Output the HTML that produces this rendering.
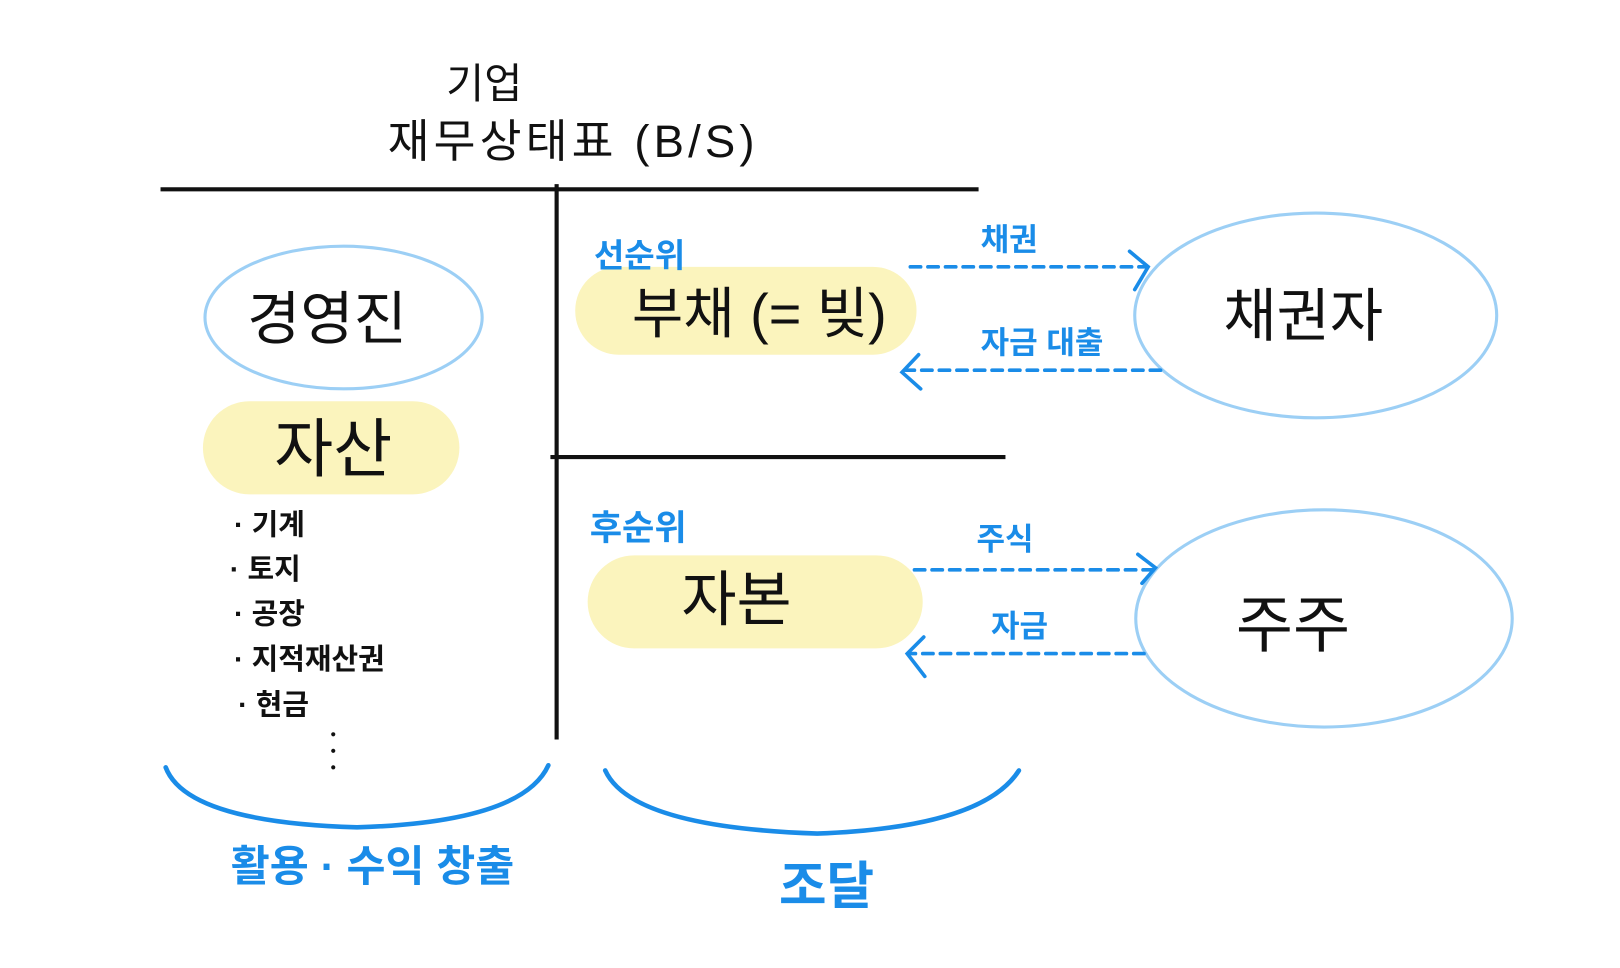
<!DOCTYPE html>
<html><head><meta charset="utf-8"><style>
html,body{margin:0;padding:0;background:#fff;}
svg{display:block;}
text{font-family:"Liberation Sans","Noto Sans CJK KR","NanumGothic",sans-serif;}
</style></head><body>
<svg width="1620" height="968" viewBox="0 0 1566 936" xmlns="http://www.w3.org/2000/svg">
<rect width="1566" height="936" fill="#fff"/>
<text x="468" y="95" font-size="40" text-anchor="middle" fill="#111">기업</text>
<text x="554" y="152" font-size="44" text-anchor="middle" fill="#111" letter-spacing="4">재무상태표 (B/S)</text>
<line x1="155" y1="183" x2="946" y2="183" stroke="#111" stroke-width="4"/>
<line x1="538" y1="178" x2="538" y2="715" stroke="#111" stroke-width="4"/>
<line x1="532" y1="442" x2="972" y2="442" stroke="#111" stroke-width="4"/>
<rect x="196" y="388" width="248" height="90" rx="45" fill="#fbf4bd"/>
<rect x="556" y="258" width="330" height="85" rx="42" fill="#fbf4bd"/>
<rect x="568" y="537" width="324" height="90" rx="45" fill="#fbf4bd"/>
<ellipse cx="332" cy="307" rx="134" ry="69" fill="none" stroke="#9ccff5" stroke-width="3"/>
<ellipse cx="1272" cy="305" rx="175" ry="99" fill="none" stroke="#9ccff5" stroke-width="3"/>
<ellipse cx="1280" cy="598" rx="182" ry="105" fill="none" stroke="#9ccff5" stroke-width="3"/>
<text x="316" y="328" font-size="56" text-anchor="middle" fill="#111">경영진</text>
<text x="322" y="456" font-size="62" text-anchor="middle" fill="#111">자산</text>
<text x="734" y="322" font-size="54" text-anchor="middle" fill="#111">부채 (= 빚)</text>
<text x="712" y="600" font-size="58" text-anchor="middle" fill="#111">자본</text>
<text x="1260" y="325" font-size="56" text-anchor="middle" fill="#111">채권자</text>
<text x="1250" y="625" font-size="60" text-anchor="middle" fill="#111">주주</text>
<g font-size="28" font-weight="bold" fill="#111">
<text x="226" y="517">· 기계</text>
<text x="222" y="560">· 토지</text>
<text x="226" y="603">· 공장</text>
<text x="226" y="647">· 지적재산권</text>
<text x="230" y="691">· 현금</text>
</g>
<circle cx="322" cy="710" r="2" fill="#111"/><circle cx="322" cy="726" r="2" fill="#111"/><circle cx="322" cy="742" r="2" fill="#111"/>
<g fill="#1a8ce8" font-weight="bold">
<text x="574" y="258" font-size="32">선순위</text>
<text x="570" y="522" font-size="34">후순위</text>
<text x="948" y="242" font-size="30">채권</text>
<text x="948" y="342" font-size="30">자금 대출</text>
<text x="944" y="532" font-size="30">주식</text>
<text x="958" y="616" font-size="30">자금</text>
<text x="360" y="852" font-size="41" text-anchor="middle">활용 · 수익 창출</text>
<text x="799" y="874" font-size="50" text-anchor="middle">조달</text>
</g>
<g stroke="#1a8ce8" stroke-width="3.5" fill="none" stroke-linecap="round">
<line x1="880" y1="258" x2="1108" y2="258" stroke-dasharray="10 7"/>
<polyline points="1092,243 1110,258 1097,280"/>
<line x1="1122" y1="358" x2="876" y2="358" stroke-dasharray="10 7"/>
<polyline points="888,343 872,360 890,376"/>
<line x1="884" y1="551" x2="1116" y2="551" stroke-dasharray="10 7"/>
<polyline points="1100,536 1117,549 1104,564"/>
<line x1="1106" y1="632" x2="880" y2="632" stroke-dasharray="10 7"/>
<polyline points="893,616 877,632 894,654"/>
<path d="M160,742 Q180,795 345,800 Q505,795 530,740" stroke-width="4.5"/>
<path d="M585,745 Q610,800 790,806 Q950,800 985,745" stroke-width="4.5"/>
</g>
</svg>
</body></html>
